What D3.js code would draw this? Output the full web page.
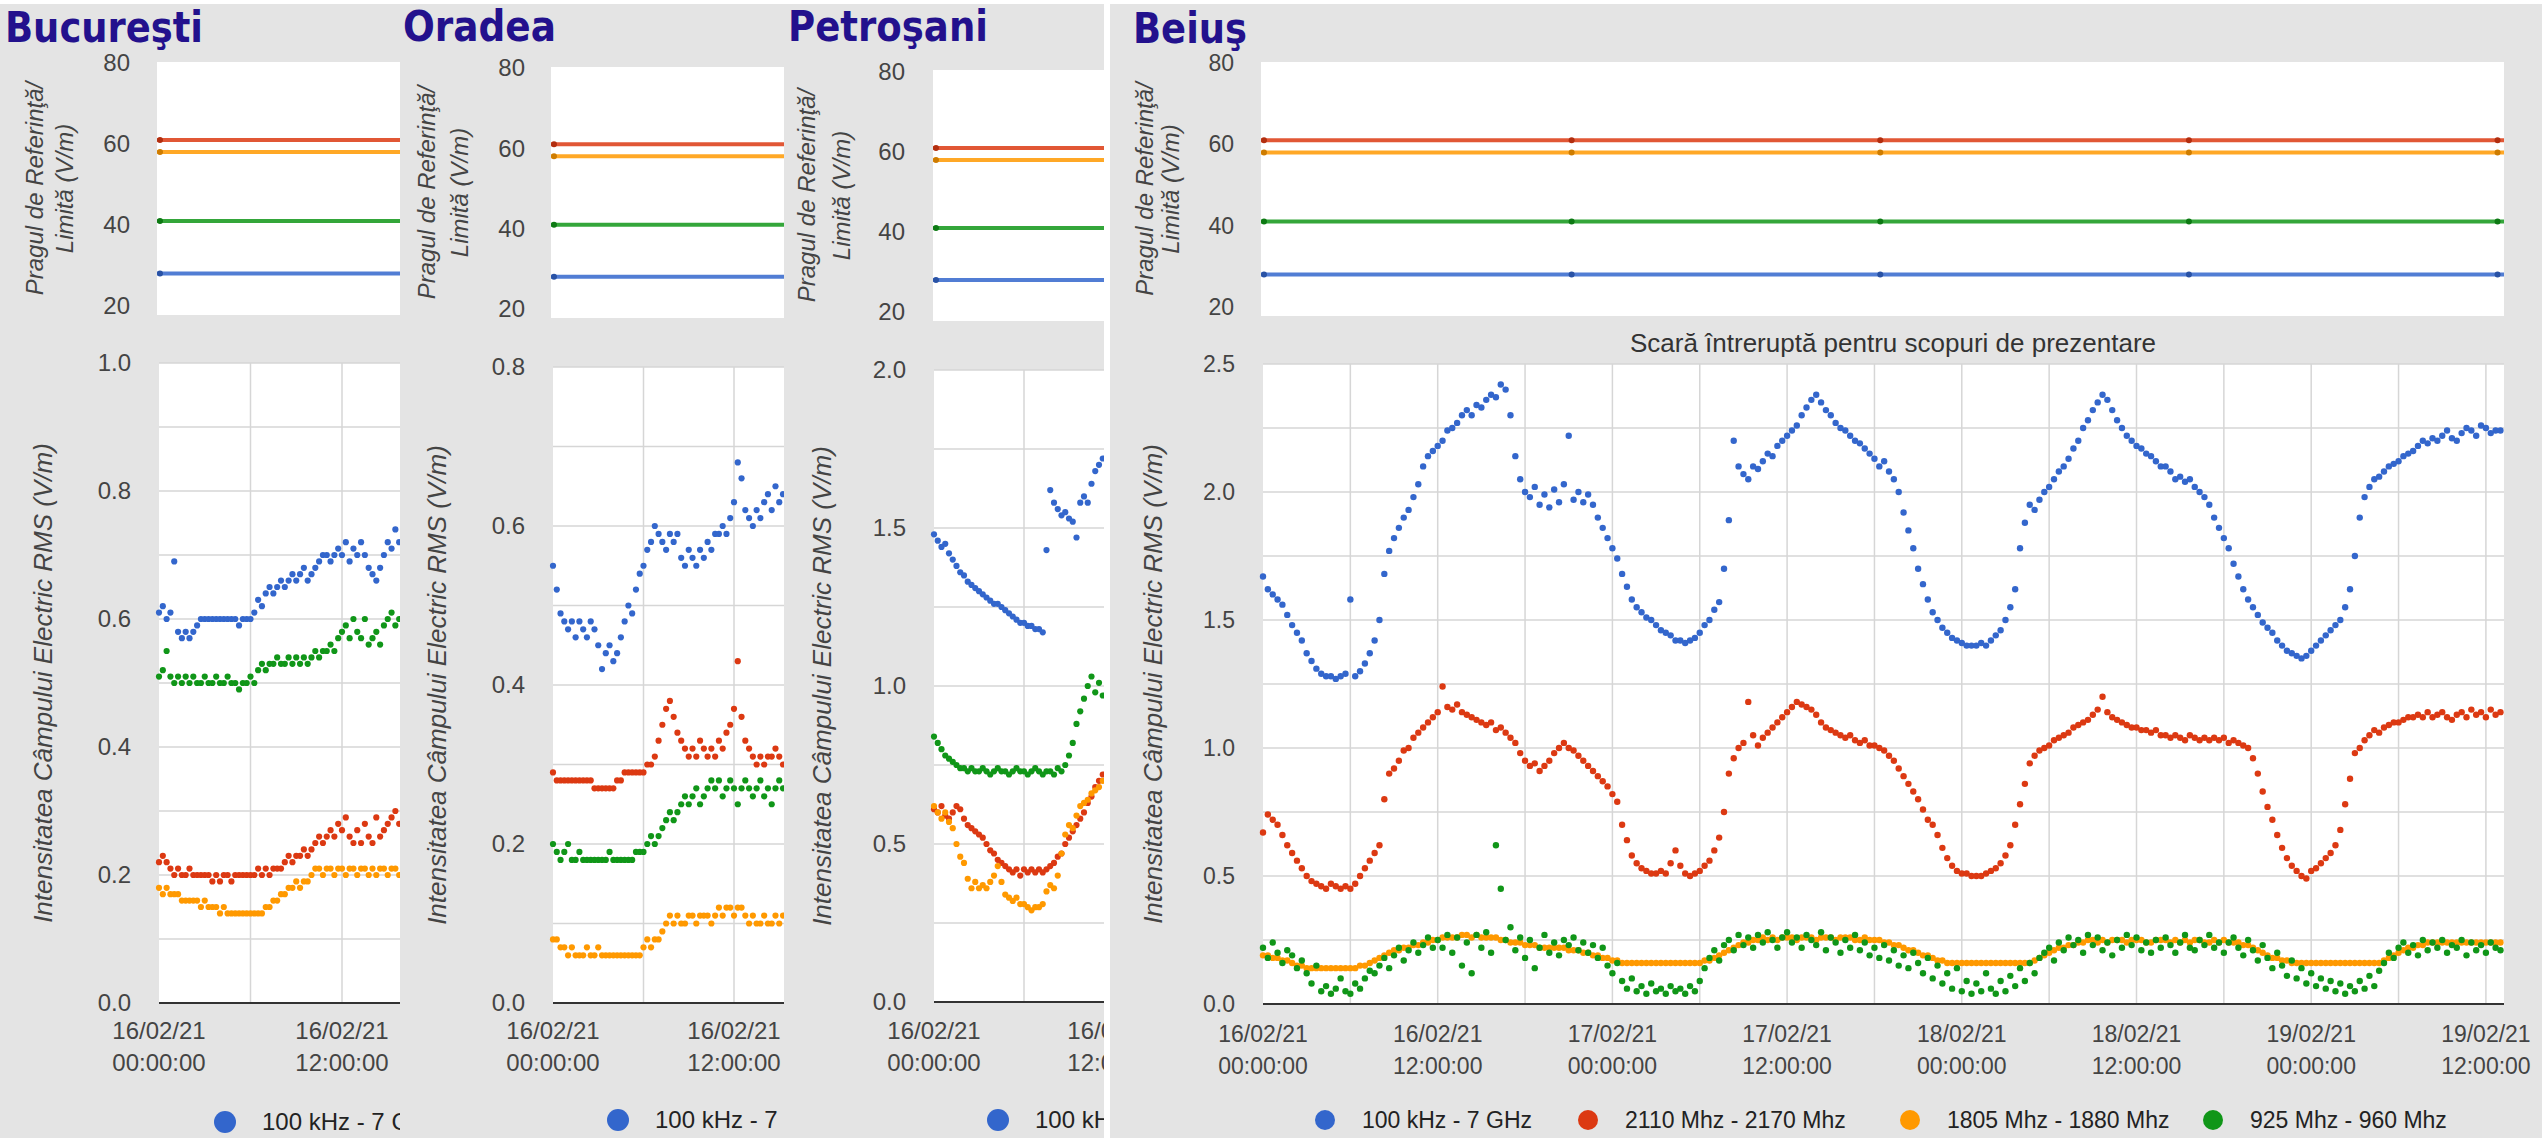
<!DOCTYPE html>
<html>
<head>
<meta charset="utf-8">
<script src="https://cdn.jsdelivr.net/npm/d3@7"></script>
<style>
  body { margin: 0; background: #e4e4e4; }
  svg { display: block; font-family: "Liberation Sans", Arial, sans-serif; }
</style>
</head>
<body>
<svg id="chart" width="2542" height="1138"></svg>
<script>
// ---- data ----
const seriesNames = ["100 kHz - 7 GHz", "2110 Mhz - 2170 Mhz", "1805 Mhz - 1880 Mhz", "925 Mhz - 960 Mhz"];
const seriesColors = ["#3366cc", "#dc3912", "#ff9900", "#109618"];
const refLimits = [28, 61, 58, 41];           // V/m, same order as seriesNames
const refTicks = [20, 40, 60, 80];
const refPointHours = [0, 21.2, 42.4, 63.6, 84.8];
const xLabelDates = ["16/02/21", "16/02/21", "17/02/21", "17/02/21", "18/02/21", "18/02/21", "19/02/21", "19/02/21"];
const xLabelTimes = ["00:00:00", "12:00:00", "00:00:00", "12:00:00", "00:00:00", "12:00:00", "00:00:00", "12:00:00"];

// Bucuresti, one value every 15 min from 16/02 00:00
const bucBlue = [0.61,0.62,0.60,0.61, 0.69,0.58,0.57,0.58, 0.57,0.58,0.59,0.60, 0.60,0.60,0.60,0.60,
  0.60,0.60,0.60,0.60, 0.60,0.59,0.60,0.60, 0.60,0.61,0.63,0.62, 0.64,0.65,0.64,0.65,
  0.66,0.65,0.66,0.67, 0.66,0.67,0.68,0.66, 0.67,0.68,0.69,0.70, 0.70,0.69,0.70,0.71,
  0.70,0.72,0.69,0.71, 0.70,0.72,0.70,0.68, 0.67,0.66,0.68,0.70, 0.72,0.71,0.74,0.72, 0.70];
const bucRed = [0.22,0.23,0.22,0.21, 0.20,0.21,0.20,0.20, 0.21,0.20,0.20,0.20, 0.20,0.20,0.19,0.20,
  0.19,0.20,0.20,0.19, 0.20,0.20,0.20,0.20, 0.20,0.20,0.21,0.20, 0.21,0.20,0.21,0.21,
  0.21,0.22,0.23,0.22, 0.23,0.23,0.24,0.23, 0.24,0.25,0.26,0.25, 0.26,0.27,0.26,0.28,
  0.27,0.29,0.26,0.25, 0.27,0.25,0.28,0.26, 0.25,0.29,0.26,0.27, 0.28,0.29,0.30,0.28, 0.29];
const bucOrange = [0.18,0.17,0.18,0.17, 0.17,0.17,0.16,0.16, 0.16,0.16,0.16,0.15, 0.16,0.15,0.15,0.15,
  0.14,0.15,0.14,0.14, 0.14,0.14,0.14,0.14, 0.14,0.14,0.14,0.14, 0.15,0.15,0.16,0.16,
  0.17,0.17,0.18,0.18, 0.19,0.18,0.19,0.19, 0.20,0.21,0.21,0.20, 0.21,0.21,0.20,0.21,
  0.21,0.20,0.21,0.21, 0.20,0.21,0.21,0.20, 0.21,0.20,0.21,0.21, 0.20,0.21,0.21,0.20, 0.21];
const bucGreen = [0.51,0.52,0.55,0.51, 0.50,0.51,0.50,0.51, 0.50,0.51,0.50,0.50, 0.51,0.50,0.50,0.51,
  0.50,0.50,0.51,0.50, 0.50,0.49,0.50,0.50, 0.51,0.50,0.52,0.53, 0.52,0.53,0.53,0.54,
  0.53,0.53,0.54,0.53, 0.54,0.53,0.54,0.53, 0.54,0.55,0.54,0.55, 0.55,0.56,0.55,0.57,
  0.58,0.59,0.57,0.60, 0.58,0.57,0.60,0.56, 0.57,0.58,0.56,0.59, 0.60,0.61,0.59,0.60, 0.60];

// Oradea, every 15 min
const oraBlue = [0.55,0.52,0.49,0.48, 0.47,0.48,0.46,0.48, 0.47,0.46,0.48,0.47, 0.45,0.42,0.44,0.45,
  0.43,0.44,0.46,0.48, 0.50,0.49,0.52,0.54, 0.55,0.57,0.58,0.60, 0.59,0.58,0.57,0.59,
  0.58,0.59,0.56,0.55, 0.57,0.56,0.55,0.57, 0.56,0.58,0.57,0.59, 0.59,0.60,0.59,0.61,
  0.63,0.68,0.66,0.62, 0.61,0.60,0.62,0.61, 0.63,0.64,0.62,0.65, 0.63,0.64,0.62];
const oraRed = [0.29,0.28,0.28,0.28, 0.28,0.28,0.28,0.28, 0.28,0.28,0.28,0.27, 0.27,0.27,0.27,0.27,
  0.27,0.28,0.28,0.29, 0.29,0.29,0.29,0.29, 0.29,0.30,0.30,0.31, 0.33,0.35,0.37,0.38,
  0.36,0.34,0.33,0.32, 0.31,0.32,0.31,0.33, 0.32,0.31,0.32,0.31, 0.33,0.32,0.34,0.35,
  0.37,0.43,0.36,0.33, 0.32,0.31,0.30,0.31, 0.30,0.31,0.31,0.32, 0.31,0.30,0.31];
const oraOrange = [0.08,0.08,0.07,0.07, 0.06,0.07,0.06,0.06, 0.06,0.07,0.06,0.06, 0.07,0.06,0.06,0.06,
  0.06,0.06,0.06,0.06, 0.06,0.06,0.06,0.06, 0.07,0.08,0.07,0.08, 0.08,0.09,0.10,0.11,
  0.10,0.11,0.10,0.10, 0.11,0.11,0.10,0.11, 0.11,0.11,0.10,0.11, 0.12,0.11,0.12,0.12,
  0.11,0.12,0.12,0.11, 0.10,0.11,0.10,0.10, 0.11,0.10,0.10,0.11, 0.10,0.11,0.10];
const oraGreen = [0.20,0.19,0.18,0.19, 0.20,0.18,0.18,0.19, 0.18,0.18,0.18,0.18, 0.18,0.18,0.18,0.19,
  0.18,0.18,0.18,0.18, 0.18,0.18,0.19,0.19, 0.19,0.20,0.21,0.20, 0.21,0.22,0.23,0.24,
  0.23,0.24,0.25,0.26, 0.25,0.26,0.27,0.25, 0.26,0.27,0.28,0.27, 0.28,0.26,0.27,0.28,
  0.27,0.25,0.27,0.28, 0.27,0.26,0.27,0.28, 0.26,0.27,0.25,0.27, 0.28,0.27,0.26];

// Petrosani, every 15 min
const petBlue = [1.48,1.46,1.44,1.45, 1.42,1.40,1.38,1.36, 1.35,1.33,1.32,1.31, 1.30,1.29,1.28,1.27,
  1.26,1.26,1.25,1.24, 1.23,1.22,1.21,1.20, 1.20,1.19,1.19,1.18, 1.18,1.17,1.43,1.62,
  1.58,1.56,1.54,1.55, 1.53,1.52,1.47,1.58, 1.60,1.58,1.64,1.68, 1.70,1.72,1.69];
const petRed = [0.61,0.60,0.62,0.59, 0.58,0.60,0.62,0.61, 0.58,0.56,0.55,0.54, 0.53,0.52,0.50,0.48,
  0.47,0.45,0.44,0.43, 0.42,0.41,0.42,0.40, 0.42,0.41,0.42,0.41, 0.42,0.41,0.42,0.43,
  0.44,0.46,0.47,0.50, 0.52,0.54,0.56,0.58, 0.60,0.63,0.65,0.68, 0.70,0.72,0.71];
const petOrange = [0.62,0.60,0.58,0.60, 0.57,0.55,0.50,0.46, 0.44,0.39,0.36,0.38, 0.36,0.37,0.36,0.38,
  0.40,0.43,0.38,0.34, 0.33,0.32,0.33,0.31, 0.31,0.30,0.29,0.30, 0.30,0.31,0.35,0.37,
  0.36,0.40,0.47,0.53, 0.56,0.55,0.59,0.62, 0.63,0.64,0.66,0.67, 0.68,0.70,0.69];
const petGreen = [0.84,0.82,0.80,0.78, 0.77,0.76,0.75,0.74, 0.74,0.73,0.74,0.73, 0.73,0.74,0.73,0.72,
  0.73,0.74,0.73,0.73, 0.72,0.73,0.74,0.73, 0.73,0.72,0.73,0.74, 0.73,0.72,0.73,0.73,
  0.72,0.74,0.73,0.75, 0.78,0.82,0.88,0.92, 0.96,1.00,1.03,0.98, 1.01,0.97,1.00];

// Beius, one value every 20 min (three per hour) from 16/02 00:00
const beiBlue = [1.67,1.62,1.60, 1.58,1.56,1.52, 1.48,1.45,1.42, 1.37,1.34,1.31, 1.29,1.28,1.28, 1.27,1.28,1.29,
  1.58,1.28,1.30, 1.33,1.37,1.42, 1.50,1.68,1.77, 1.82,1.86,1.90, 1.93,1.98,2.03, 2.10,2.14,2.16,
  2.18,2.20,2.24, 2.25,2.27,2.30, 2.32,2.30,2.34, 2.33,2.36,2.38, 2.37,2.42,2.40, 2.30,2.14,2.05,
  2.00,1.98,2.02, 1.95,1.99,1.94, 2.01,1.96,2.03, 2.22,1.97,2.00, 1.96,1.99,1.95, 1.90,1.86,1.82,
  1.78,1.74,1.68, 1.63,1.58,1.55, 1.53,1.51,1.50, 1.48,1.46,1.45, 1.44,1.42,1.42, 1.41,1.42,1.43,
  1.45,1.48,1.50, 1.54,1.57,1.70, 1.89,2.20,2.10, 2.07,2.05,2.10, 2.09,2.12,2.15, 2.14,2.18,2.20,
  2.22,2.24,2.26, 2.30,2.33,2.36, 2.38,2.35,2.32, 2.30,2.27,2.25, 2.24,2.22,2.20, 2.19,2.17,2.15,
  2.13,2.10,2.12, 2.08,2.05,2.00, 1.92,1.85,1.78, 1.70,1.64,1.58, 1.53,1.50,1.47, 1.45,1.43,1.42,
  1.41,1.40,1.40, 1.40,1.41,1.40, 1.42,1.44,1.46, 1.50,1.55,1.62, 1.78,1.88,1.95, 1.93,1.97,2.00,
  2.02,2.05,2.08, 2.10,2.13,2.17, 2.20,2.25,2.28, 2.32,2.35,2.38, 2.36,2.32,2.28, 2.25,2.22,2.20,
  2.18,2.17,2.15, 2.14,2.12,2.10, 2.10,2.08,2.05, 2.06,2.04,2.05, 2.02,2.00,1.98, 1.95,1.90,1.86,
  1.82,1.78,1.72, 1.67,1.62,1.58, 1.55,1.52,1.49, 1.47,1.45,1.42, 1.40,1.38,1.37, 1.36,1.35,1.36,
  1.38,1.40,1.42, 1.44,1.46,1.48, 1.50,1.55,1.62, 1.75,1.90,1.98, 2.02,2.05,2.06, 2.08,2.10,2.11,
  2.12,2.14,2.15, 2.16,2.18,2.20, 2.19,2.21,2.20, 2.22,2.24,2.21, 2.20,2.23,2.25, 2.24,2.22,2.26,
  2.25,2.23,2.24, 2.24];
const beiRed = [0.67,0.74,0.72, 0.70,0.66,0.62, 0.59,0.56,0.53, 0.50,0.48,0.47, 0.46,0.45,0.47, 0.46,0.45,0.46,
  0.45,0.47,0.50, 0.53,0.56,0.59, 0.62,0.80,0.90, 0.92,0.95,0.99, 1.00,1.04,1.06, 1.08,1.10,1.12,
  1.14,1.24,1.16, 1.15,1.17,1.14, 1.13,1.12,1.11, 1.10,1.09,1.10, 1.07,1.08,1.06, 1.04,1.02,0.98,
  0.95,0.93,0.94, 0.91,0.93,0.95, 0.98,1.00,1.02, 1.00,0.99,0.97, 0.95,0.93,0.91, 0.89,0.87,0.85,
  0.82,0.79,0.70, 0.64,0.58,0.55, 0.53,0.52,0.51, 0.51,0.52,0.51, 0.55,0.60,0.54, 0.51,0.50,0.51,
  0.52,0.54,0.56, 0.60,0.65,0.75, 0.90,0.96,1.00, 1.02,1.18,1.05, 1.01,1.04,1.06, 1.08,1.10,1.12,
  1.14,1.16,1.18, 1.17,1.16,1.15, 1.13,1.10,1.08, 1.07,1.06,1.05, 1.04,1.05,1.03, 1.02,1.03,1.01,
  1.01,1.00,0.99, 0.97,0.95,0.92, 0.89,0.86,0.83, 0.80,0.76,0.72, 0.70,0.66,0.61, 0.57,0.54,0.52,
  0.51,0.51,0.50, 0.50,0.50,0.51, 0.52,0.53,0.55, 0.58,0.62,0.70, 0.78,0.86,0.94, 0.97,0.99,1.00,
  1.01,1.03,1.04, 1.05,1.06,1.08, 1.09,1.10,1.11, 1.13,1.15,1.20, 1.14,1.12,1.11, 1.10,1.09,1.08,
  1.08,1.07,1.07, 1.06,1.07,1.05, 1.05,1.04,1.05, 1.04,1.03,1.05, 1.04,1.03,1.04, 1.03,1.04,1.03,
  1.04,1.02,1.03, 1.02,1.01,1.00, 0.96,0.90,0.83, 0.77,0.72,0.66, 0.61,0.57,0.54, 0.52,0.50,0.49,
  0.52,0.53,0.55, 0.57,0.59,0.62, 0.68,0.78,0.88, 0.98,1.00,1.03, 1.05,1.07,1.06, 1.08,1.09,1.10,
  1.10,1.11,1.12, 1.12,1.13,1.12, 1.14,1.12,1.13, 1.14,1.12,1.11, 1.13,1.14,1.12, 1.15,1.13,1.14,
  1.12,1.15,1.13, 1.14];
const beiOrange = [0.19,0.19,0.18, 0.18,0.17,0.17, 0.16,0.15,0.15, 0.14,0.14,0.14, 0.14,0.14,0.14, 0.14,0.14,0.14,
  0.14,0.14,0.15, 0.15,0.16,0.17, 0.18,0.19,0.20, 0.21,0.21,0.22, 0.22,0.23,0.23, 0.24,0.24,0.25,
  0.25,0.26,0.26, 0.26,0.26,0.27, 0.27,0.26,0.27, 0.26,0.26,0.26, 0.26,0.25,0.25, 0.24,0.24,0.24,
  0.23,0.23,0.23, 0.22,0.22,0.22, 0.22,0.22,0.22, 0.21,0.21,0.21, 0.20,0.20,0.19, 0.19,0.18,0.18,
  0.17,0.17,0.16, 0.16,0.16,0.16, 0.16,0.16,0.16, 0.16,0.16,0.16, 0.16,0.16,0.16, 0.16,0.16,0.16,
  0.16,0.17,0.17, 0.18,0.19,0.20, 0.21,0.22,0.23, 0.24,0.24,0.25, 0.25,0.26,0.25, 0.26,0.25,0.26,
  0.26,0.26,0.25, 0.26,0.26,0.26, 0.25,0.26,0.26, 0.26,0.25,0.26, 0.26,0.26,0.25, 0.25,0.26,0.25,
  0.25,0.25,0.24, 0.24,0.23,0.23, 0.22,0.21,0.21, 0.20,0.19,0.19, 0.18,0.17,0.17, 0.16,0.16,0.16,
  0.16,0.16,0.16, 0.16,0.16,0.16, 0.16,0.16,0.16, 0.16,0.16,0.16, 0.16,0.16,0.16, 0.17,0.18,0.19,
  0.20,0.21,0.22, 0.22,0.23,0.23, 0.24,0.24,0.25, 0.25,0.24,0.25, 0.24,0.25,0.25, 0.25,0.24,0.25,
  0.25,0.25,0.24, 0.24,0.25,0.25, 0.25,0.24,0.25, 0.24,0.25,0.24, 0.25,0.25,0.24, 0.24,0.25,0.24,
  0.25,0.24,0.24, 0.24,0.23,0.23, 0.22,0.21,0.20, 0.19,0.18,0.18, 0.17,0.17,0.16, 0.16,0.16,0.16,
  0.16,0.16,0.16, 0.16,0.16,0.16, 0.16,0.16,0.16, 0.16,0.16,0.16, 0.16,0.16,0.16, 0.17,0.18,0.19,
  0.20,0.21,0.22, 0.22,0.23,0.23, 0.24,0.24,0.24, 0.24,0.24,0.24, 0.24,0.24,0.24, 0.24,0.24,0.24,
  0.24,0.24,0.24, 0.24];
const beiGreen = [0.22,0.18,0.24, 0.20,0.16,0.21, 0.19,0.14,0.17, 0.12,0.08,0.15, 0.05,0.07,0.04, 0.06,0.10,0.05,
  0.04,0.08,0.06, 0.10,0.13,0.12, 0.15,0.18,0.14, 0.19,0.22,0.17, 0.21,0.24,0.20, 0.23,0.26,0.22,
  0.25,0.22,0.27, 0.20,0.26,0.15, 0.24,0.12,0.27, 0.22,0.28,0.20, 0.62,0.45,0.25, 0.30,0.21,0.26,
  0.18,0.25,0.14, 0.22,0.27,0.20, 0.24,0.19,0.25, 0.23,0.26,0.21, 0.24,0.20,0.23, 0.18,0.22,0.15,
  0.12,0.16,0.09, 0.06,0.10,0.05, 0.07,0.04,0.08, 0.05,0.06,0.04, 0.07,0.05,0.06, 0.04,0.07,0.05,
  0.09,0.14,0.18, 0.21,0.17,0.23, 0.25,0.21,0.27, 0.23,0.26,0.22, 0.27,0.24,0.28, 0.25,0.22,0.26,
  0.28,0.24,0.26, 0.22,0.27,0.25, 0.23,0.28,0.21, 0.26,0.24,0.20, 0.25,0.22,0.27, 0.21,0.24,0.19,
  0.22,0.18,0.23, 0.17,0.21,0.15, 0.19,0.14,0.20, 0.16,0.12,0.18, 0.10,0.15,0.08, 0.12,0.06,0.14,
  0.05,0.09,0.04, 0.08,0.05,0.12, 0.06,0.04,0.09, 0.05,0.11,0.07, 0.14,0.09,0.16, 0.12,0.18,0.20,
  0.22,0.17,0.24, 0.21,0.26,0.23, 0.25,0.20,0.27, 0.23,0.26,0.21, 0.24,0.19,0.25, 0.22,0.27,0.23,
  0.26,0.21,0.24, 0.20,0.25,0.22, 0.26,0.23,0.20, 0.24,0.27,0.22, 0.21,0.25,0.23, 0.27,0.22,0.24,
  0.20,0.24,0.26, 0.22,0.19,0.25, 0.21,0.17,0.23, 0.18,0.14,0.20, 0.15,0.11,0.17, 0.10,0.14,0.08,
  0.12,0.07,0.10, 0.06,0.09,0.05, 0.08,0.04,0.07, 0.05,0.09,0.06, 0.11,0.07,0.13, 0.16,0.20,0.18,
  0.22,0.24,0.20, 0.23,0.19,0.25, 0.21,0.24,0.22, 0.25,0.20,0.23, 0.22,0.25,0.19, 0.24,0.21,0.23,
  0.20,0.24,0.22, 0.21];

// ---- layout of the four screenshots ----
const panels = [
  { name: "Bucureşti", series: [bucBlue, bucRed, bucOrange, bucGreen], step: 0.25,
    clip: [0, 400], right: 400, title: [5, 42, 198],
    top: { x: 157, y0: 62, y1: 315, v80: 63, v20: 306, tickX: 130, t1: 35, t2: 65 },
    bot: { x: 159, y0: 363, y1: 1003, px12: 183, yMax: 1.0, yTick: 0.2, yGrid: 0.1, titleX: 43 },
    xl: [1039, 1071], legend: [225, 1122, 11], r: 3.1, fs: 24 },
  { name: "Oradea", series: [oraBlue, oraRed, oraOrange, oraGreen], step: 0.25,
    clip: [400, 784], right: 784, title: [403, 41, 153],
    top: { x: 551, y0: 67, y1: 318, v80: 68, v20: 309, tickX: 525, t1: 427, t2: 460 },
    bot: { x: 553, y0: 367, y1: 1003, px12: 181, yMax: 0.8, yTick: 0.2, yGrid: 0.1, titleX: 437 },
    xl: [1039, 1071], legend: [618, 1120, 11], r: 3.1, fs: 24 },
  { name: "Petroşani", series: [petBlue, petRed, petOrange, petGreen], step: 0.25,
    clip: [784, 1104], right: 1104, title: [788, 41, 200],
    top: { x: 933, y0: 70, y1: 321, v80: 72, v20: 312, tickX: 905, t1: 807, t2: 842 },
    bot: { x: 934, y0: 370, y1: 1002, px12: 180, yMax: 2.0, yTick: 0.5, yGrid: 0.25, titleX: 822 },
    xl: [1039, 1071], legend: [998, 1120, 11], r: 3.1, fs: 24 },
  { name: "Beiuş", series: [beiBlue, beiRed, beiOrange, beiGreen], step: 1 / 3,
    clip: [1110, 2542], right: 2504, title: [1133, 43, 114],
    top: { x: 1261, y0: 62, y1: 316, v80: 63, v20: 307, tickX: 1234, t1: 1145, t2: 1171 },
    bot: { x: 1263, y0: 364, y1: 1004, px12: 174.7, yMax: 2.5, yTick: 0.5, yGrid: 0.25, titleX: 1153 },
    xl: [1042, 1074], legend: [1325, 1120, 10], r: 3.2, fs: 23,
    subtitle: "Scară întreruptă pentru scopuri de prezentare" }
];
const legendOffsets = [0, 263, 585, 888];

const W = 2542, H = 1138;
const svg = d3.select("#chart");
svg.append("rect").attr("width", W).attr("height", H).attr("fill", "#e4e4e4");
svg.append("rect").attr("width", W).attr("height", 4).attr("fill", "#ffffff");
svg.append("rect").attr("x", 1104).attr("width", 6).attr("height", H).attr("fill", "#ffffff");
const defs = svg.append("defs");

panels.forEach((p, pi) => {
  defs.append("clipPath").attr("id", "clip" + pi).append("rect")
    .attr("x", p.clip[0]).attr("y", 0).attr("width", p.clip[1] - p.clip[0]).attr("height", H);
  const g = svg.append("g").attr("clip-path", `url(#clip${pi})`);

  const x = d3.scaleLinear().domain([0, 12]).range([p.bot.x, p.bot.x + p.bot.px12]);
  const maxHours = x.invert(p.right);

  // city title
  g.append("text")
    .attr("x", p.title[0]).attr("y", p.title[1])
    .attr("font-family", "DejaVu Sans").attr("font-weight", "bold").attr("font-size", 42)
    .attr("fill", "#23118d")
    .attr("textLength", p.title[2]).attr("lengthAdjust", "spacingAndGlyphs")
    .text(p.name);

  // --- top chart: reference levels ---
  const yTop = d3.scaleLinear().domain([20, 80]).range([p.top.v20, p.top.v80]);
  g.append("rect").attr("x", p.top.x).attr("y", p.top.y0)
    .attr("width", p.right - p.top.x).attr("height", p.top.y1 - p.top.y0).attr("fill", "#fff");

  g.append("g").attr("transform", `translate(${p.top.tickX},0)`)
    .call(d3.axisLeft(yTop).tickValues(refTicks).tickSize(0).tickPadding(0))
    .call(a => a.select(".domain").remove())
    .selectAll("text").attr("font-size", p.fs).attr("fill", "#444").attr("font-family", "Liberation Sans, Arial");

  const topCy = (p.top.y0 + p.top.y1) / 2;
  [["Pragul de Referinţă/", p.top.t1], ["Limită (V/m)", p.top.t2]].forEach(([s, tx]) => {
    g.append("text").attr("transform", `translate(${tx},${topCy}) rotate(-90)`)
      .attr("text-anchor", "middle").attr("dy", "0.35em")
      .attr("font-size", 24).attr("font-style", "italic").attr("fill", "#444").text(s);
  });

  const refLine = d3.line().x(d => d[0]).y(d => yTop(d[1]));
  refLimits.forEach((lim, si) => {
    g.append("path")
      .datum([[p.top.x, lim], [p.right, lim]])
      .attr("d", refLine).attr("stroke", seriesColors[si]).attr("stroke-width", 4)
      .attr("stroke-opacity", 0.85).attr("fill", "none");
    g.selectAll(null).data(refPointHours.filter(h => h <= maxHours)).enter()
      .append("circle").attr("cx", h => Math.max(x(h), p.top.x + 3)).attr("cy", yTop(lim))
      .attr("r", 3).attr("fill", d3.color(seriesColors[si]).darker(0.6));
  });

  // --- bottom chart: measured field ---
  const y = d3.scaleLinear().domain([0, p.bot.yMax]).range([p.bot.y1, p.bot.y0]);
  g.append("rect").attr("x", p.bot.x).attr("y", p.bot.y0)
    .attr("width", p.right - p.bot.x).attr("height", p.bot.y1 - p.bot.y0).attr("fill", "#fff");

  const gridVals = d3.range(1, Math.round(p.bot.yMax / p.bot.yGrid) + 1).map(k => k * p.bot.yGrid);
  g.selectAll(null).data(gridVals).enter().append("line")
    .attr("x1", p.bot.x).attr("x2", p.right).attr("y1", d => y(d)).attr("y2", d => y(d))
    .attr("stroke", "#d6d6d6").attr("stroke-width", 1.5);
  g.selectAll(null).data(d3.range(6, maxHours, 6)).enter().append("line")
    .attr("x1", d => x(d)).attr("x2", d => x(d)).attr("y1", p.bot.y0).attr("y2", p.bot.y1)
    .attr("stroke", "#d6d6d6").attr("stroke-width", 1.5);

  const yTicks = d3.range(0, Math.round(p.bot.yMax / p.bot.yTick) + 1).map(k => k * p.bot.yTick);
  g.append("g").attr("transform", `translate(${p.bot.x - 28},0)`)
    .call(d3.axisLeft(y).tickValues(yTicks).tickFormat(d3.format(".1f")).tickSize(0).tickPadding(0))
    .call(a => a.select(".domain").remove())
    .selectAll("text").attr("font-size", p.fs).attr("fill", "#444").attr("font-family", "Liberation Sans, Arial");

  g.append("text")
    .attr("transform", `translate(${p.bot.titleX},${(p.bot.y0 + p.bot.y1) / 2}) rotate(-90)`)
    .attr("text-anchor", "middle").attr("dy", "0.35em")
    .attr("font-size", 26).attr("font-style", "italic").attr("fill", "#444")
    .text("Intensitatea Câmpului Electric RMS (V/m)");

  if (p.subtitle) {
    g.append("text").attr("x", 1893).attr("y", 352).attr("text-anchor", "middle")
      .attr("font-size", 26).attr("fill", "#333").text(p.subtitle);
  }

  // scatter points, later series drawn on top
  p.series.forEach((vals, si) => {
    g.append("g").selectAll("circle")
      .data(vals.map((v, i) => [i * p.step, v]).filter(d => d[0] <= maxHours + 0.1))
      .enter().append("circle")
      .attr("cx", d => x(d[0])).attr("cy", d => y(d[1]))
      .attr("r", p.r).attr("fill", seriesColors[si]);
  });

  g.append("line").attr("x1", p.bot.x).attr("x2", p.right)
    .attr("y1", p.bot.y1).attr("y2", p.bot.y1).attr("stroke", "#333").attr("stroke-width", 2);

  // time labels every 12 h
  const labelHours = d3.range(0, xLabelDates.length).map(k => k * 12);
  labelHours.forEach((h, k) => {
    if (x(h) > p.right + 40) return;
    [xLabelDates[k], xLabelTimes[k]].forEach((s, li) => {
      g.append("text").attr("x", x(h)).attr("y", p.xl[li]).attr("text-anchor", "middle")
        .attr("font-size", p.fs).attr("fill", "#444").text(s);
    });
  });

  // legend (the narrow screenshots only show the start of it)
  seriesNames.forEach((s, si) => {
    const cx = p.legend[0] + legendOffsets[si];
    if (cx > p.clip[1]) return;
    g.append("circle").attr("cx", cx).attr("cy", p.legend[1]).attr("r", p.legend[2])
      .attr("fill", seriesColors[si]);
    g.append("text").attr("x", cx + 37).attr("y", p.legend[1]).attr("dy", "0.35em")
      .attr("font-size", p.fs).attr("fill", "#222").text(s);
  });
});
</script>
</body>
</html>
